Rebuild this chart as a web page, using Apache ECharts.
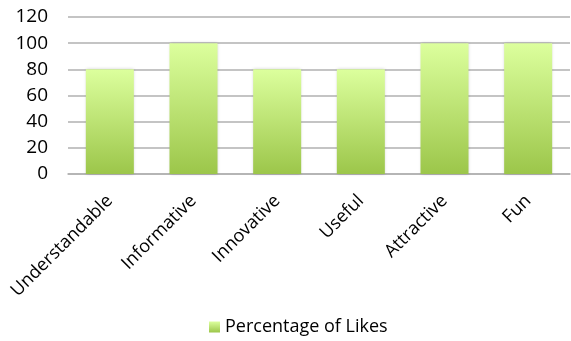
<!DOCTYPE html>
<html><head><meta charset="utf-8">
<script src="https://cdn.jsdelivr.net/npm/echarts@6/dist/echarts.min.js"></script>
<style>html,body{margin:0;padding:0;background:#fff}#c{width:571px;height:341px}</style>
</head><body><div id="c"></div>
<script>
const categories = ["Understandable","Informative","Innovative","Useful","Attractive","Fun"];
const likes = [80,100,80,80,100,100];
const seriesName = "Percentage of Likes";
const chart = echarts.init(document.getElementById('c'));
const font = "'Open Sans', sans-serif";
chart.setOption({
  animation:false,
  grid:{left:68,right:1,top:17,bottom:167,containLabel:false},
  legend:{bottom:0,left:204,itemWidth:11,itemHeight:11,itemGap:6,icon:'rect',
    textStyle:{fontFamily:font,fontSize:18,color:'#000'},data:[seriesName]},
  xAxis:{type:'category',data:categories,
    axisLine:{lineStyle:{color:'#b0b0b0',width:1.5}},axisTick:{show:false},
    axisLabel:{rotate:45,fontFamily:font,fontSize:18,color:'#000',margin:24,interval:0}},
  yAxis:{type:'value',min:0,max:120,interval:20,
    axisLine:{show:false},axisTick:{show:false},
    splitLine:{lineStyle:{color:'#b0b0b0',width:1.5}},
    axisLabel:{fontFamily:font,fontSize:19,color:'#000',margin:20}},
  series:[{name:seriesName,type:'bar',data:likes,barWidth:48,
    itemStyle:{color:new echarts.graphic.LinearGradient(0,0,0,1,[{offset:0,color:'#dcff9d'},{offset:1,color:'#9cc64a'}]),
      shadowColor:'rgba(0,0,0,0.18)',shadowBlur:3}}]
});
</script></body></html>
